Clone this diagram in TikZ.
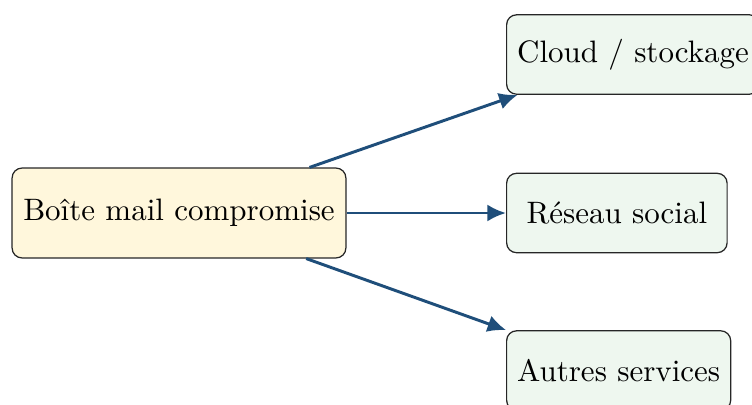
\documentclass[tikz,border=0pt]{standalone}
\usetikzlibrary{arrows.meta}
\definecolor{srcfill}{HTML}{FFF7DC}
\definecolor{dstfill}{HTML}{EEF7EF}
\definecolor{linkblue}{HTML}{1F4E7A}
\tikzset{
  srcbox/.style={draw=black!85, fill=srcfill, rounded corners=3.2pt, line width=0.4pt,
                 minimum height=29pt, inner sep=3.6pt},
  dstbox/.style={draw=black!85, fill=dstfill, rounded corners=3.2pt, line width=0.4pt,
                 minimum width=2.5cm, minimum height=0.9cm, inner sep=3.4pt},
  link/.style={draw=linkblue, line width=0.95pt, -{Latex[length=6pt,width=5.5pt]}}
}
\begin{document}
\begin{tikzpicture}[x=0.32258pt, y=-0.32258pt]
  \useasboundingbox (0,0) rectangle (752,405);
  \node[srcbox] (mail) at (179,213) {Boîte mail compromise};
  \node[dstbox, anchor=west] (cloud) at (506,54.5) {Cloud / stockage};
  \node[dstbox, anchor=west] (social) at (506,213) {Réseau social};
  \node[dstbox, anchor=west] (other) at (506,370.5) {Autres services};
  \draw[link] (mail) -- (cloud);
  \draw[link] (mail.east) -- (social.west);
  \draw[link] (mail) -- (other);
\end{tikzpicture}
\end{document}
